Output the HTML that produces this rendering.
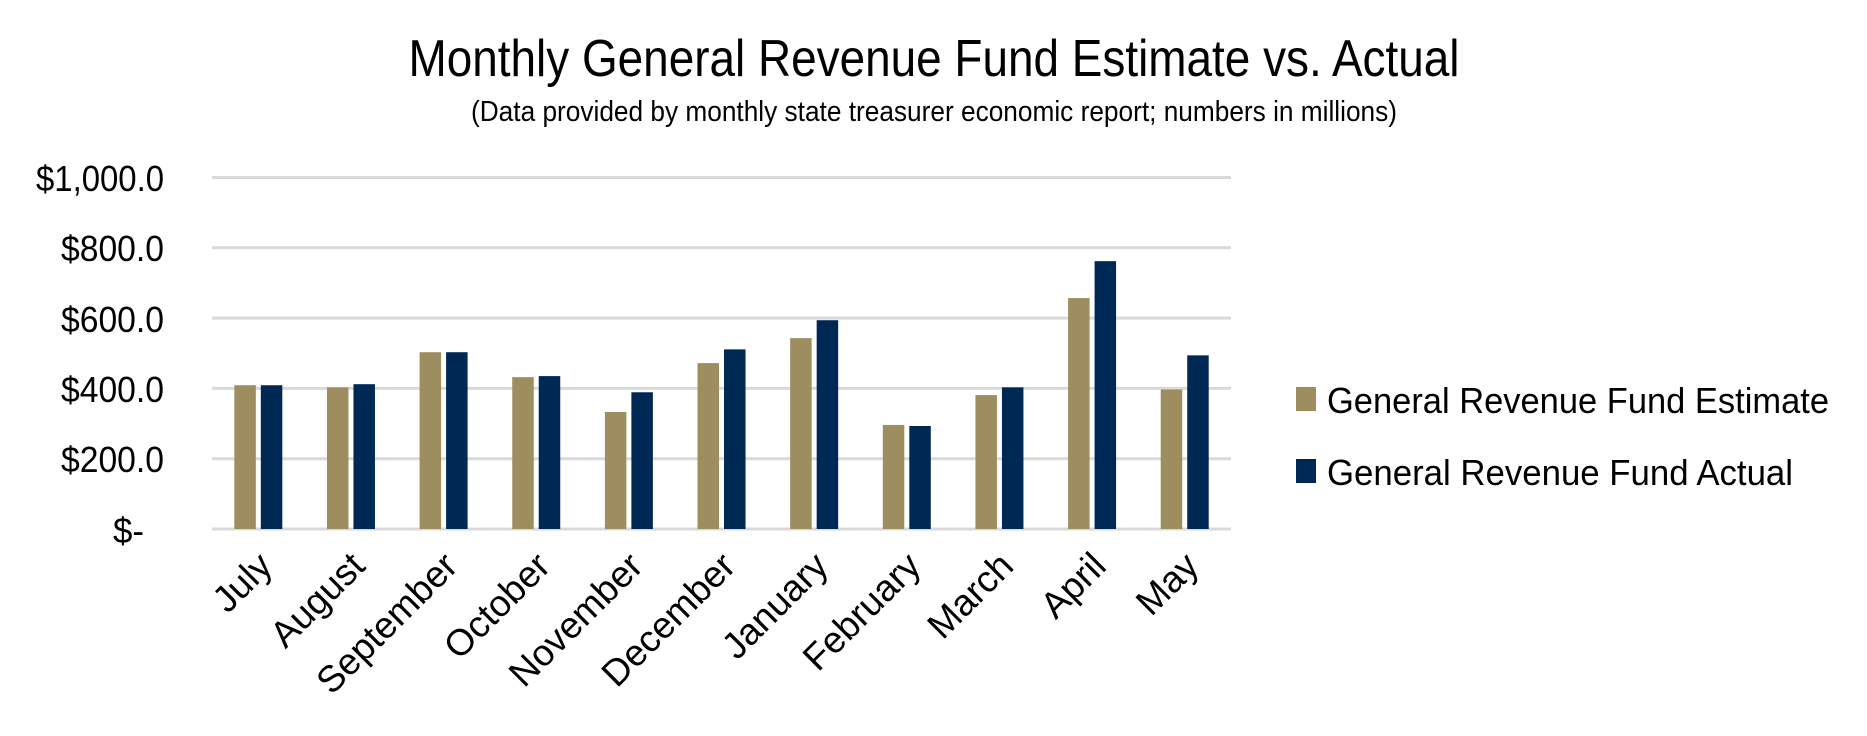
<!DOCTYPE html>
<html><head><style>html,body{margin:0;padding:0;background:#fff}svg{display:block}</style></head>
<body>
<svg width="1867" height="736" viewBox="0 0 1867 736" xmlns="http://www.w3.org/2000/svg" font-family="Liberation Sans, sans-serif">
<text x="934" y="76" font-size="52" text-anchor="middle" textLength="1051" lengthAdjust="spacingAndGlyphs" fill="#000">Monthly General Revenue Fund Estimate vs. Actual</text>
<text x="934" y="121" font-size="29" text-anchor="middle" textLength="926" lengthAdjust="spacingAndGlyphs" fill="#000">(Data provided by monthly state treasurer economic report; numbers in millions)</text>
<g stroke="#d9d9d9" stroke-width="3">
<line x1="212" x2="1231" y1="177.5" y2="177.5"/>
<line x1="212" x2="1231" y1="247.8" y2="247.8"/>
<line x1="212" x2="1231" y1="318.1" y2="318.1"/>
<line x1="212" x2="1231" y1="388.4" y2="388.4"/>
<line x1="212" x2="1231" y1="458.7" y2="458.7"/>
<line x1="212" x2="1231" y1="529" y2="529"/>
</g>
<g font-size="36" text-anchor="end" fill="#000">
<text x="164" y="191" textLength="128" lengthAdjust="spacingAndGlyphs">$1,000.0</text>
<text x="164" y="261" textLength="103" lengthAdjust="spacingAndGlyphs">$800.0</text>
<text x="164" y="332" textLength="103" lengthAdjust="spacingAndGlyphs">$600.0</text>
<text x="164" y="402" textLength="103" lengthAdjust="spacingAndGlyphs">$400.0</text>
<text x="164" y="472" textLength="103" lengthAdjust="spacingAndGlyphs">$200.0</text>
<text x="144" y="543" textLength="31" lengthAdjust="spacingAndGlyphs">$-</text>
</g>
<g id="bars"></g>
<rect x="1296" y="387" width="20" height="24" fill="#9e8d5f"/>
<rect x="1296" y="459" width="20" height="24" fill="#002855"/>
<g font-size="36" fill="#000">
<text x="1327" y="413" textLength="502" lengthAdjust="spacingAndGlyphs">General Revenue Fund Estimate</text>
<text x="1327" y="485" textLength="466" lengthAdjust="spacingAndGlyphs">General Revenue Fund Actual</text>
</g>
<g id="xl" font-size="37" text-anchor="end" fill="#000"></g>
<script>
var m=["July","August","September","October","November","December","January","February","March","April","May"];
var e=[409,403,503,432,333,472,543,296,381,657,397];
var a=[409,412,503,435,389,511,594,293,403,762,494];
var ns="http://www.w3.org/2000/svg",b=document.getElementById("bars"),xl=document.getElementById("xl");
for(var i=0;i<11;i++){var cx=212+92.64*(i+0.5);
[[e[i],cx-24,"#9e8d5f"],[a[i],cx+2.5,"#002855"]].forEach(function(d){var r=document.createElementNS(ns,"rect");var h=d[0]*0.3515;r.setAttribute("x",d[1]);r.setAttribute("y",529-h);r.setAttribute("width",21.5);r.setAttribute("height",h);r.setAttribute("fill",d[2]);b.appendChild(r);});
var t=document.createElementNS(ns,"text");t.textContent=m[i];var x=cx+16,y=568;t.setAttribute("x",x);t.setAttribute("y",y);t.setAttribute("transform","rotate(-45 "+x+" "+y+")");xl.appendChild(t);}
</script>
</svg>
</body></html>
